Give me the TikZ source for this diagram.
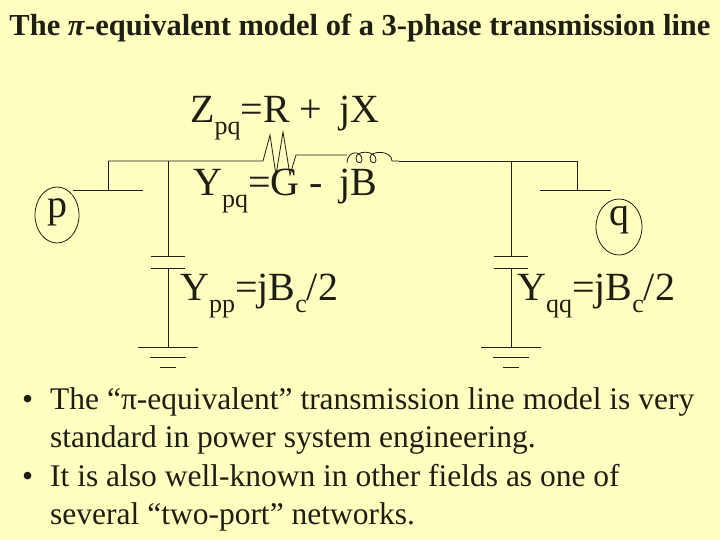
\documentclass[tikz,border=0pt]{standalone}
\usepackage{fontspec}
\setmainfont{Liberation Serif}
\definecolor{bg}{RGB}{255,255,192}
\definecolor{ink}{RGB}{30,30,20}
\newcommand{\sbs}[1]{\raisebox{-0.28em}{\fontsize{26}{28}\selectfont #1}}
\begin{document}
\begin{tikzpicture}[x=1pt,y=-1pt,
  wire/.style={draw=ink,line width=0.8pt},
  big/.style={font=\fontsize{40}{44}\selectfont,text=ink,inner sep=0pt},
  bul/.style={font=\fontsize{31.5}{38.5}\selectfont,text=ink,inner sep=0pt,anchor=north west,align=left}]
\fill[bg] (0,0) rectangle (720,540);
\useasboundingbox (0,0) rectangle (720,540);
\node[font=\bfseries\fontsize{30.5}{32}\selectfont,text=ink,inner sep=0pt] (title) at (360,28) {The \textit{π}-equivalent model of a 3-phase transmission line};
% wires
\coordinate (tl) at (108,161);
\coordinate (rs) at (263,161);
\draw[wire] (tl) -- (rs) -- (270,135) -- (276,175) -- (283,132) -- (290,175) -- (296,155) -- (347,155);
\draw[wire] (347,163) .. controls (347,150) and (362,150) .. (362,160) .. controls (362,164) and (356,164) .. (356,158)
  .. controls (356,150) and (376,150) .. (376,160) .. controls (376,164) and (370,164) .. (370,158)
  .. controls (370,150) and (392,150) .. (392,161) -- (399,161);
\coordinate (tr) at (577,161);
\draw[wire] (399,161) -- (tr);
% buses
\draw[wire] (tl) -- (108,190);
\draw[wire] (73,190) -- (143,190);
\draw[wire] (577,161) -- (577,190);
\draw[wire] (540,190) -- (611,190);
% shunts
\foreach \x in {168,511}{
  \draw[wire] (\x,161) -- (\x,256);
  \draw[wire] (\x-17,256) -- (\x+17,256);
  \draw[wire] (\x-17,268) -- (\x+17,268);
  \draw[wire] (\x,268) -- (\x,347);
  \draw[wire] (\x-30,347) -- (\x+30,347);
  \draw[wire] (\x-18,357) -- (\x+18,357);
  \draw[wire] (\x-8,367) -- (\x+8,367);
}
\draw[wire] (57,215) ellipse (22 and 28);
\node[big] (p) at (57,212) {p};
\draw[wire] (619,227) ellipse (23 and 28);
\node[big] (q) at (619,220) {q};
\node[big,anchor=west] (z) at (190,118) {Z\sbs{pq}=R +\, jX};
\node[big,anchor=west] (y) at (193,191) {Y\sbs{pq}=G -\, jB};
\node[big,anchor=west] (ypp) at (180,296) {Y\sbs{pp}=jB\sbs{c}/2};
\node[big,anchor=west] (yqq) at (517,296) {Y\sbs{qq}=jB\sbs{c}/2};
\node[bul] (b1) at (22,387) {\makebox[28pt][l]{\textbullet}The “π-equivalent” transmission line model is very\\
\hspace{28pt}standard in power system engineering.\\
\makebox[28pt][l]{\textbullet}It is also well-known in other fields as one of\\
\hspace{28pt}several “two-port” networks.};
\end{tikzpicture}
\end{document}
